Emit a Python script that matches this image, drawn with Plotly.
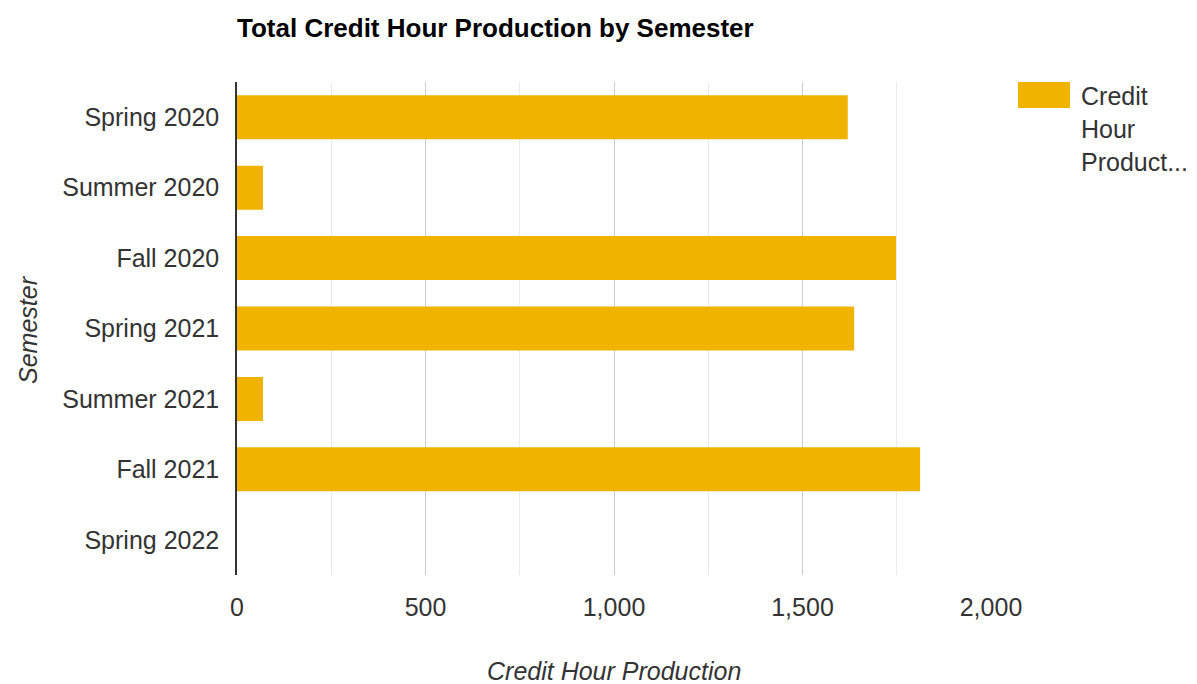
import plotly.graph_objects as go

semesters = ["Spring 2020", "Summer 2020", "Fall 2020", "Spring 2021",
             "Summer 2021", "Fall 2021", "Spring 2022"]
credit_hours = [1620, 69, 1748, 1637, 69, 1812, None]
x_ticks = [0, 500, 1000, 1500, 2000]
x_tick_labels = ["0", "500", "1,000", "1,500", "2,000"]
legend_lines = ["Credit", "Hour", "Product..."]

bar_color = "#f0b400"
font = "Liberation Sans, Arial, sans-serif"

# page has an 8px body margin, so the figure is a bit smaller than the window
W, H = 1189, 676
L, R, T, B = 229, 206, 74, 109
PW, PH = W - L - R, H - T - B


def px(x):
    # screen x -> paper x
    return (x - 8 - L) / PW


def py(y):
    # screen y -> paper y
    return (H - B - (y - 8)) / PH


fig = go.Figure()
fig.add_trace(go.Bar(
    y=semesters, x=credit_hours, orientation="h",
    marker=dict(color=bar_color, line=dict(width=0)),
    showlegend=False,
))

fig.update_layout(
    width=W, height=H,
    margin=dict(l=L, r=R, t=T, b=B),
    plot_bgcolor="white", paper_bgcolor="white",
    bargap=0.375,
    font=dict(family=font, size=25, color="#333"),
    title=dict(text="<b>Total Credit Hour Production by Semester</b>",
               x=L / W, xanchor="left", y=1 - 20 / H, yanchor="middle",
               font=dict(family=font, size=26, color="#000")),
)
fig.update_xaxes(
    range=[0, 2000], tickvals=x_ticks, ticktext=x_tick_labels,
    showgrid=True, gridcolor="#cccccc", gridwidth=1,
    minor=dict(dtick=250, showgrid=True, gridcolor="#ebebeb"),
    zeroline=False, showline=False, ticks="", ticklabelstandoff=15,
    tickfont=dict(size=25, color="#333"),
)
fig.update_yaxes(
    categoryorder="array", categoryarray=semesters, autorange="reversed",
    showgrid=False, showline=True, linecolor="#333", linewidth=1.5,
    ticks="", ticklabelstandoff=11, tickfont=dict(size=25, color="#333"),
)

# axis titles
fig.add_annotation(text="<i>Credit Hour Production</i>", xref="paper", yref="paper",
                   x=px(614), y=py(671), xanchor="center",
                   yanchor="middle", showarrow=False,
                   font=dict(family=font, size=25, color="#333"))
fig.add_annotation(text="<i>Semester</i>", xref="paper", yref="paper",
                   x=px(28), y=py(329), textangle=-90,
                   xanchor="center", yanchor="middle", showarrow=False,
                   font=dict(family=font, size=25, color="#333"))

# legend swatch and wrapped label
fig.add_shape(type="rect", xref="paper", yref="paper",
              x0=px(1018), x1=px(1070), y0=py(108), y1=py(82),
              fillcolor=bar_color, line=dict(width=0))
for i, line in enumerate(legend_lines):
    fig.add_annotation(text=line, xref="paper", yref="paper",
                       x=px(1079), y=py(96 + 33 * i),
                       xanchor="left", yanchor="middle", showarrow=False,
                       font=dict(family=font, size=25, color="#333"))

fig.write_html("out.html")
